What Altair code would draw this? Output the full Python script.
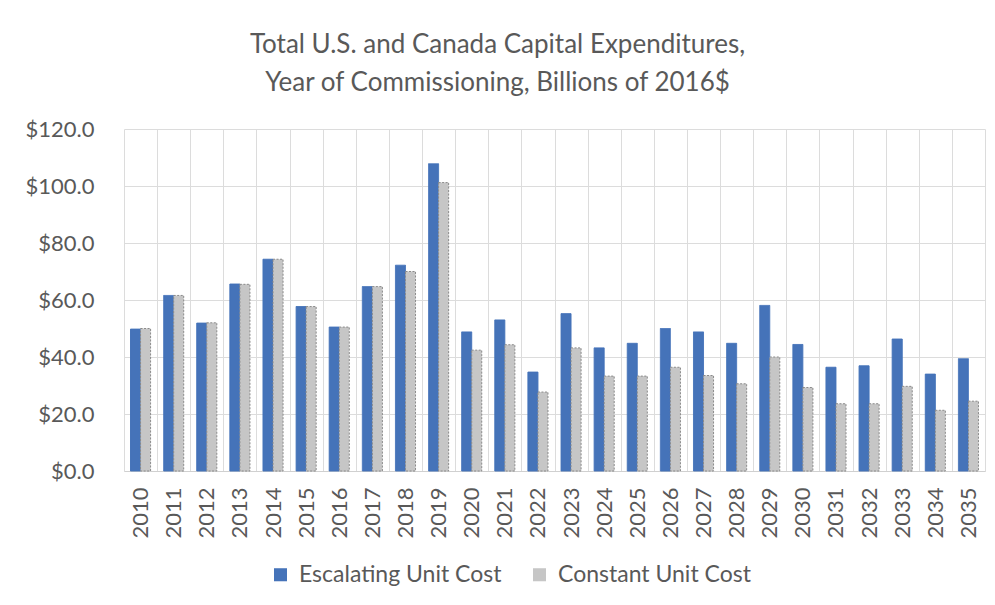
import altair as alt
import pandas as pd

years = [str(y) for y in range(2010, 2036)]
escalating = [49.8, 61.6, 51.9, 65.6, 74.3, 57.7, 50.5, 64.7, 72.2, 107.8,
              48.8, 53.0, 34.7, 55.2, 43.2, 44.8, 50.0, 48.8, 44.8, 58.1,
              44.4, 36.4, 36.9, 46.3, 34.0, 39.4]
constant = [50.0, 61.6, 52.0, 65.5, 74.3, 57.7, 50.5, 64.7, 70.0, 101.2,
            42.4, 44.3, 27.7, 43.2, 33.3, 33.3, 36.4, 33.5, 30.6, 40.0,
            29.3, 23.6, 23.6, 29.7, 21.3, 24.5]
series = ["Escalating Unit Cost", "Constant Unit Cost"]

rows = []
for i, y in enumerate(years):
    rows.append({"Year": y, "Series": series[0], "Value": escalating[i]})
    rows.append({"Year": y, "Series": series[1], "Value": constant[i]})
df = pd.DataFrame(rows)

FONT = "Lato"
TXT = "#595959"

chart = alt.Chart(df).mark_bar(strokeWidth=1).encode(
    x=alt.X("Year:N", sort=years, title=None,
            scale=alt.Scale(paddingInner=0, paddingOuter=0),
            axis=alt.Axis(labelAngle=-90, labelAlign="right", labelBaseline="middle",
                          labelFontSize=22, labelColor=TXT, labelFont=FONT,
                          tickBand="extent", grid=True, gridColor="#dcdcdc",
                          ticks=False, domain=True, domainColor="#d0d0d0",
                          labelPadding=16)),
    xOffset=alt.XOffset("Series:N", sort=series,
                        scale=alt.Scale(paddingOuter=0.65, paddingInner=0)),
    y=alt.Y("Value:Q", title=None,
            scale=alt.Scale(domain=[0, 120]),
            axis=alt.Axis(values=[0, 20, 40, 60, 80, 100, 120], format="$.1f",
                          labelFontSize=22, labelColor=TXT, labelFont=FONT,
                          grid=True, gridColor="#dcdcdc", ticks=False, domain=False,
                          labelPadding=30)),
    color=alt.Color("Series:N", sort=series,
                    scale=alt.Scale(domain=series, range=["#4573B9", "#c6c6c6"]),
                    legend=alt.Legend(title=None, orient="none", direction="horizontal",
                                      legendX=145, legendY=434,
                                      symbolType="square", symbolSize=170,
                                      symbolStrokeWidth=0, labelOffset=7,
                                      labelLimit=500,
                                      labelFontSize=23, labelColor=TXT, labelFont=FONT,
                                      columnPadding=26)),
    stroke=alt.Stroke("Series:N", sort=series,
                      scale=alt.Scale(domain=series, range=["#4573B9", "#8a8a8a"]),
                      legend=None),
    strokeDash=alt.StrokeDash("Series:N", sort=series,
                              scale=alt.Scale(domain=series, range=[[1, 0], [2, 1.5]]),
                              legend=None),
).properties(
    width=861,
    height=342,
    title=alt.TitleParams(
        text=["Total U.S. and Canada Capital Expenditures,",
              "Year of Commissioning, Billions of 2016$"],
        fontSize=26, font=FONT, fontWeight="normal", color=TXT,
        anchor="middle", lineHeight=38, offset=22, dx=-57),
    autosize=alt.AutoSizeParams(type="none"),
    padding={"left": 116, "top": 121, "right": 2, "bottom": 126},
).configure_view(stroke=None)

chart.save("out.html", embed_options={"renderer": "svg", "actions": False})
